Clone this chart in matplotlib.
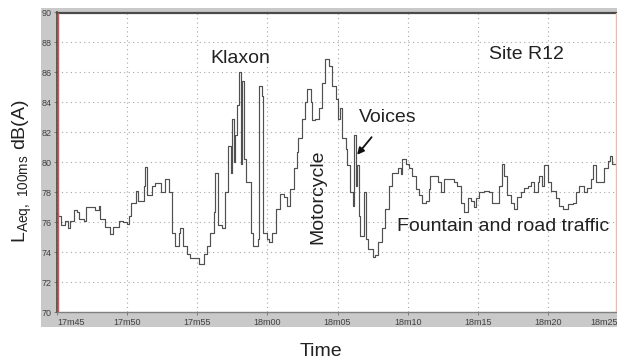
import numpy as np
import matplotlib.pyplot as plt
from matplotlib.patches import Rectangle

plt.rcParams['font.family'] = ['Liberation Sans', 'DejaVu Sans']
plt.rcParams['mathtext.fontset'] = 'custom'
plt.rcParams['mathtext.rm'] = 'Liberation Sans'

# --- Datos: LAeq 100 ms, segundos desde 17m45 ---
t_s = [0.0, 0.1, 0.3, 0.6, 0.8, 0.9, 1.2, 1.4, 1.6, 1.9, 2.1, 2.5, 2.7, 3.0, 3.1,
       3.4, 3.8, 4.0, 4.4, 4.7, 5.0, 5.1, 5.3, 5.6, 5.8, 6.2, 6.3, 6.4, 6.8, 7.0,
       7.4, 7.7, 8.0, 8.2, 8.4, 8.7, 8.8, 9.0, 9.3, 9.5, 10.0, 10.1, 10.5, 10.7,
       10.9, 11.2, 11.3, 11.5, 11.8, 12.0, 12.2, 12.4, 12.5, 12.6, 12.7, 12.8,
       12.95, 13.1, 13.2, 13.3, 13.5, 13.8, 14.0, 14.3, 14.4, 14.6, 14.7, 15.0,
       15.1, 15.3, 15.6, 15.9, 16.2, 16.4, 16.6, 16.9, 17.1, 17.2, 17.5, 17.7,
       17.8, 18.1, 18.2, 18.4, 18.7, 18.9, 19.1, 19.4, 19.6, 19.9, 20.0, 20.2,
       20.3, 20.6, 20.7, 20.9, 21.1, 21.2, 21.3, 21.4, 21.5, 21.6, 21.9, 22.0,
       22.2, 22.5, 22.7, 22.9, 23.2, 23.4, 23.7, 23.9, 24.3, 24.5, 24.6, 24.9,
       25.1, 25.3, 25.6, 25.8, 26.0, 26.3, 26.5, 26.6, 27.0, 27.2, 27.4, 27.6,
       27.95, 28.3, 28.55, 28.8, 29.0, 29.3, 29.5, 29.7, 29.9, 30.1, 30.45, 30.6,
       30.8, 31.05, 31.3, 31.5, 31.7, 31.9, 32.1, 32.4, 32.6, 32.8, 33.1, 33.3,
       33.55, 33.8, 34.0, 34.3, 34.4, 34.6, 34.7, 35.0, 35.2, 35.6, 35.8, 36.05,
       36.4, 36.8, 37.0, 37.2, 37.6, 37.8, 38.1, 38.2, 38.4, 38.8, 39.0, 39.3,
       39.4, 39.6, 39.9, 40.0]
laeq = [76.6, 76.4, 75.8, 76.1, 75.6, 76.1, 76.8, 76.7, 76.2, 76.1, 77.0, 77.0,
        76.8, 77.1, 76.2, 75.7, 75.2, 75.7, 76.1, 76.0, 75.9, 76.4, 77.3, 78.1,
        77.4, 78.4, 79.7, 77.8, 78.4, 78.6, 78.0, 78.9, 78.0, 75.3, 74.4, 75.3,
        75.6, 74.4, 73.9, 73.6, 73.6, 73.2, 73.9, 74.4, 75.3, 76.7, 79.3, 75.8,
        75.6, 78.0, 81.1, 79.3, 82.9, 80.0, 81.8, 83.8, 86.0, 79.9, 85.4, 80.2,
        78.7, 75.3, 74.4, 74.9, 85.1, 84.4, 75.3, 74.9, 74.7, 75.3, 76.9, 77.9,
        77.7, 77.1, 78.2, 79.6, 80.7, 81.6, 82.9, 84.0, 84.9, 84.0, 82.8, 82.9,
        83.6, 85.3, 86.9, 86.4, 85.1, 84.2, 82.9, 83.6, 81.6, 80.9, 79.8, 78.0,
        77.1, 81.8, 78.4, 79.8, 76.4, 75.1, 78.0, 74.9, 74.2, 73.7, 73.8, 74.7,
        75.6, 76.9, 78.4, 79.3, 79.6, 79.2, 80.2, 79.9, 79.6, 79.1, 78.2, 77.8,
        77.3, 77.4, 78.2, 79.1, 79.1, 78.7, 78.0, 78.9, 78.9, 78.7, 78.4, 77.3,
        76.7, 77.6, 77.4, 77.0, 77.6, 78.0, 78.1, 78.1, 78.0, 77.3, 77.3, 78.4,
        79.9, 79.1, 77.8, 77.3, 76.9, 77.7, 78.0, 78.3, 78.4, 78.7, 78.0, 78.7,
        79.1, 78.4, 79.8, 78.7, 78.1, 77.6, 77.1, 76.9, 77.2, 77.3, 78.0, 78.4,
        78.0, 78.3, 78.9, 79.8, 78.7, 78.7, 79.6, 80.1, 80.4, 79.9, 80.0, 80.0]

tick_pos = [0, 5, 10, 15, 20, 25, 30, 35, 40]
tick_lbl = ['17m45', '17m50', '17m55', '18m00', '18m05', '18m10', '18m15', '18m20', '18m25']
ytick_pos = [70, 72, 74, 76, 78, 80, 82, 84, 86, 88, 90]

W, H = 617, 360
fig = plt.figure(figsize=(W / 100, H / 100), dpi=100)

# marco gris del visor (zona de ejes y etiquetas), por debajo de los ejes
fig.patches.append(Rectangle((41 / W, 1 - 327 / H), (W - 41) / W, (327 - 8) / H,
                             transform=fig.transFigure, facecolor='#c9c9c9',
                             edgecolor='none', zorder=-5))

ax = fig.add_axes([57 / W, 1 - 312 / H, (618 - 57) / W, (312 - 12.5) / H])
ax.set_facecolor('white')
ax.plot(t_s, laeq, drawstyle='steps-post', color='#505050', lw=0.85)

ax.set_xlim(0, 40)
ax.set_ylim(70, 90)
ax.set_xticks(tick_pos)
ax.set_xticklabels(tick_lbl)
ax.set_yticks(ytick_pos)
ax.grid(True, color='#a8a8a8', linestyle=(0, (1, 3)), lw=0.8)
ax.tick_params(axis='both', length=2.5, width=0.6, color='#707070', pad=1.5,
               labelsize=6.5, labelcolor='#404040')
for lbl in ax.get_xticklabels() + ax.get_yticklabels():
    lbl.set_family(['Liberation Sans Narrow', 'Liberation Sans'])
ax.get_xticklabels()[0].set_horizontalalignment('left')
ax.get_xticklabels()[-1].set_horizontalalignment('right')

ax.spines['top'].set_color('#4a4a4a')
ax.spines['top'].set_linewidth(1.6)
ax.spines['bottom'].set_color('#808080')
ax.spines['bottom'].set_linewidth(1.0)
ax.spines['left'].set_color('#3c4a3c')
ax.spines['left'].set_linewidth(1.2)
ax.spines['right'].set_visible(False)
ax.axvline(0.08, color='#e05050', lw=1.0, zorder=5)
ax.axvline(39.86, color='#f5b8a8', lw=1.0, zorder=5)

# anotaciones de eventos
fs = 14
ax.text(13.1, 86.9, 'Klaxon', fontsize=fs, ha='center', va='center', color='#222222')
ax.text(33.5, 87.2, 'Site R12', fontsize=fs, ha='center', va='center', color='#222222')
ax.text(18.6, 77.7, 'Motorcycle', fontsize=fs, ha='center', va='center',
        rotation=90, color='#222222')
ax.text(31.8, 75.7, 'Fountain and road traffic', fontsize=fs, ha='center',
        va='center', color='#222222')
ax.annotate('Voices', xy=(21.4, 80.5), xytext=(23.6, 83.0), fontsize=fs,
            ha='center', va='center', color='#222222',
            arrowprops=dict(arrowstyle='-|>', color='#111111', lw=1.3,
                            mutation_scale=10, shrinkA=8, shrinkB=0))

fig.text(321 / W, 1 - 351 / H, 'Time', fontsize=fs, ha='center', va='center',
         color='#222222')
fig.text(22 / W, 1 - 171 / H, r'L$_{\rm Aeq,\ 100ms}$ dB(A)', fontsize=fs,
         ha='center', va='center', rotation=90, color='#222222')

fig.savefig('out.png', dpi=100)
